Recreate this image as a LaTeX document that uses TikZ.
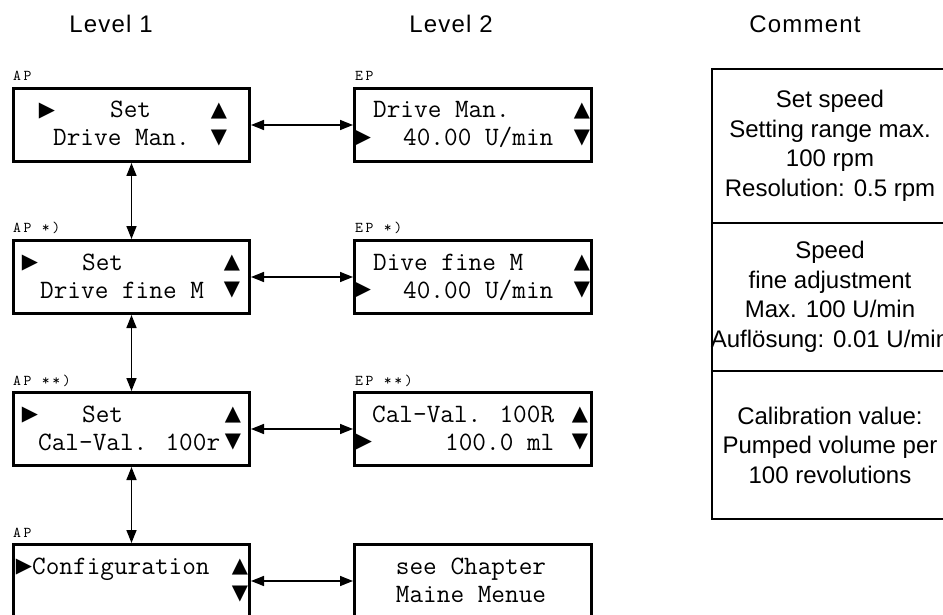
\documentclass[tikz,border=0pt]{standalone}
\usepackage{fontspec}
\setmainfont{Liberation Sans}
\newfontfamily\symfont{DejaVu Sans}
\newfontfamily\headfont{Liberation Sans}[LetterSpace=5]
\newfontfamily\tagfont{lmmono10-regular.otf}[LetterSpace=17]
\usetikzlibrary{arrows.meta}
\begin{document}
\begin{tikzpicture}[x=1pt,y=-1pt,
  lcdbox/.style={draw, rectangle, line width=3pt, minimum height=73pt, inner sep=0pt},
  lcd/.style={font=\ttfamily\fontsize{26.5}{30}\selectfont, inner sep=0pt, anchor=base west},
  lcdc/.style={font=\ttfamily\fontsize{26.5}{30}\selectfont, inner sep=0pt, anchor=base},
  sym/.style={font=\symfont\fontsize{21}{24}\selectfont, inner sep=0pt, anchor=center},
  tag/.style={font=\tagfont\fontsize{15}{17}\selectfont, inner sep=0pt, anchor=base west},
  head/.style={font=\headfont\fontsize{24}{28}\selectfont, inner sep=0pt, anchor=base},
  cbox/.style={draw, rectangle, line width=2.5pt, minimum width=248pt, inner sep=0pt},
  ctext/.style={inner sep=0pt, align=center, font=\fontsize{24}{29.5}\selectfont},
  link/.style={line width=1.5pt, {Triangle[length=13pt,width=10pt]}-{Triangle[length=13pt,width=10pt]}}
]
\clip (0,0) rectangle (943,615);

% titles
\node[head] (h1) at (111,33) {Level 1};
\node[head] (h2) at (451,33) {Level 2};
\node[head] (h3) at (805,33) {Comment};

% level 1 boxes
\node[lcdbox, minimum width=236pt] (a1) at (131.5,125) {};
\node[lcdbox, minimum width=236pt] (a2) at (131.5,277) {};
\node[lcdbox, minimum width=236pt] (a3) at (131.5,429) {};
\node[lcdbox, minimum width=236pt] (a4) at (131.5,581) {};
% level 2 boxes
\node[lcdbox, minimum width=237pt] (b1) at (473,125) {};
\node[lcdbox, minimum width=237pt] (b2) at (473,277) {};
\node[lcdbox, minimum width=237pt] (b3) at (473,429) {};
\node[lcdbox, minimum width=237pt] (b4) at (473,581) {};

% tags
\node[tag] (ta1) at (13,81) {AP};
\node[tag] (tb1) at (355,81) {EP};
\node[tag] (ta2) at (13,233) {AP *)};
\node[tag] (tb2) at (355,233) {EP *)};
\node[tag] (ta3) at (13,385) {AP **)};
\node[tag] (tb3) at (355,385) {EP **)};
\node[tag] (ta4) at (13,537) {AP};

% row 1
\node[sym] (s1a) at (47,111) {▶};
\node[lcd] (l1a) at (110,118) {Set};
\node[sym] (s1b) at (219,111) {▲};
\node[lcd] (l1b) at (53,146) {Drive Man.};
\node[sym] (s1c) at (219,138) {▼};
\node[lcd] (r1a) at (373,118) {Drive Man.};
\node[sym] (s1d) at (582,111) {▲};
\node[sym] (s1e) at (363,138) {▶};
\node[lcd] (r1b) at (403,146) {40.00 U/min};
\node[sym] (s1f) at (582,138) {▼};

% row 2
\node[sym] (s2a) at (30,263) {▶};
\node[lcd] (l2a) at (82,270) {Set};
\node[sym] (s2b) at (232,263) {▲};
\node[lcd] (l2b) at (40,298) {Drive fine M};
\node[sym] (s2c) at (232,290) {▼};
\node[lcd] (r2a) at (373,270) {Dive fine M};
\node[sym] (s2d) at (582,263) {▲};
\node[sym] (s2e) at (363,290) {▶};
\node[lcd] (r2b) at (403,298) {40.00 U/min};
\node[sym] (s2f) at (582,290) {▼};

% row 3
\node[sym] (s3a) at (30,415) {▶};
\node[lcd] (l3a) at (82,422) {Set};
\node[sym] (s3b) at (233,415) {▲};
\node[lcd] (l3b) at (38,450) {Cal-Val. 100r};
\node[sym] (s3c) at (233,442) {▼};
\node[lcd] (r3a) at (372,422) {Cal-Val. 100R};
\node[sym] (s3d) at (580,415) {▲};
\node[sym] (s3e) at (364,442) {▶};
\node[lcd] (r3b) at (445,450) {100.0 ml};
\node[sym] (s3f) at (580,442) {▼};

% row 4
\node[sym] (s4a) at (24,567) {▶};
\node[lcd] (l4a) at (32,574) {Configuration};
\node[sym] (s4b) at (240,567) {▲};
\node[sym] (s4c) at (240,594) {▼};
\node[lcdc] (r4a) at (471,574) {see Chapter};
\node[lcdc] (r4b) at (471,602) {Maine Menue};

% connectors
\draw[link] (a1) -- (a2);
\draw[link] (a2) -- (a3);
\draw[link] (a3) -- (a4);
\draw[link] (a1) -- (b1);
\draw[link] (a2) -- (b2);
\draw[link] (a3) -- (b3);
\draw[link] (a4) -- (b4);

% comment column
\node[cbox, minimum height=154pt] (c1) at (836,146) {};
\node[cbox, minimum height=148pt] (c2) at (836,297) {};
\node[cbox, minimum height=148pt] (c3) at (836,445) {};
\node[ctext] (ct1) at (830,146) {Set speed\\Setting range max.\\100 rpm\\Resolution: 0.5 rpm};
\node[ctext] (ct2) at (830,297) {Speed\\fine adjustment\\Max. 100 U/min\\Auflösung: 0.01 U/min};
\node[ctext] (ct3) at (830,445) {Calibration value:\\Pumped volume per\\100 revolutions};
\end{tikzpicture}
\end{document}
